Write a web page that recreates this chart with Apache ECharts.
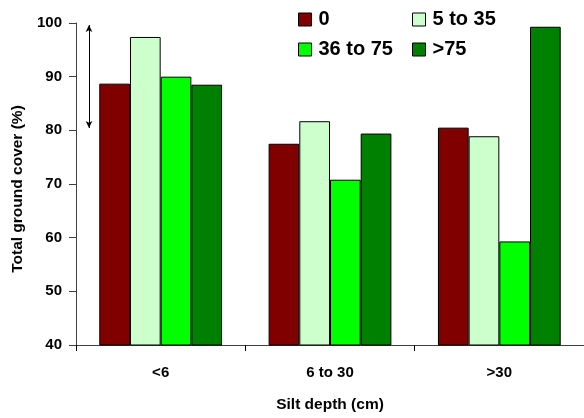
<!DOCTYPE html>
<html>
<head>
<meta charset="utf-8">
<script src="https://cdn.jsdelivr.net/npm/echarts@6/dist/echarts.min.js"></script>
<style>html,body{margin:0;padding:0;background:#fff}#c{width:584px;height:418px}</style>
</head>
<body>
<div id="c"></div>
<script>
var categories = ['<6', '6 to 30', '>30'];
var seriesNames = ['0', '5 to 35', '36 to 75', '>75'];
var values0 = [88.7, 77.5, 80.5];
var values5to35 = [97.4, 81.7, 78.9];
var values36to75 = [90.0, 70.8, 59.3];
var valuesOver75 = [88.5, 79.4, 99.3];
var yTicks = [40, 50, 60, 70, 80, 90, 100];

var colors = ['#800000', '#CCFFCC', '#00FF00', '#008000'];
var allValues = [values0, values5to35, values36to75, valuesOver75];
var FONT = 'Liberation Sans, Arial, sans-serif';

var chart = echarts.init(document.getElementById('c'), null, {renderer: 'canvas'});

var series = seriesNames.map(function (n, i) {
  return {
    name: n,
    type: 'bar',
    data: allValues[i],
    barGap: '0%',
    barCategoryGap: '27.5%',
    itemStyle: {color: colors[i], borderColor: '#000', borderWidth: 1},
    emphasis: {disabled: true}
  };
});
series[0].markLine = {
  silent: true,
  symbol: ['arrow', 'arrow'],
  symbolSize: [5, 7],
  label: {show: false},
  lineStyle: {color: '#000', width: 1, type: 'solid'},
  data: [[{x: 89, y: 25}, {x: 89, y: 128}]]
};

var legendPos = [[298, 9.5], [412, 9.5], [298, 39.5], [412, 39.5]];
var legends = seriesNames.map(function (n, i) {
  return {
    data: [n],
    left: legendPos[i][0],
    top: legendPos[i][1],
    padding: 0,
    icon: 'rect',
    itemWidth: 13,
    itemHeight: 13,
    itemStyle: {borderColor: '#000', borderWidth: 1},
    selectedMode: false,
    textStyle: {fontFamily: FONT, fontWeight: 'bold', fontSize: 20, color: '#000', lineHeight: 20, padding: [0, 0, 0, 2]}
  };
});

chart.setOption({
  animation: false,
  backgroundColor: '#fff',
  legend: legends,
  grid: {left: 76, top: 23, width: 513, height: 326, containLabel: false},
  xAxis: {
    type: 'category',
    data: categories,
    name: 'Silt depth (cm)',
    nameLocation: 'middle',
    nameGap: 52,
    nameTextStyle: {fontFamily: FONT, fontWeight: 'bold', fontSize: 15.5, color: '#000'},
    axisLine: {lineStyle: {color: '#404040', width: 1}},
    axisTick: {show: true, length: 6, lineStyle: {color: '#000'}},
    axisLabel: {fontFamily: FONT, fontWeight: 'bold', fontSize: 15, color: '#000', margin: 20}
  },
  yAxis: {
    type: 'value',
    min: yTicks[0],
    max: yTicks[yTicks.length - 1],
    interval: 10,
    name: 'Total ground cover (%)',
    nameLocation: 'middle',
    nameGap: 50,
    nameTextStyle: {fontFamily: FONT, fontWeight: 'bold', fontSize: 15.5, color: '#000', padding: [0, 10, 0, 0]},
    splitLine: {show: false},
    axisLine: {show: true, lineStyle: {color: '#404040', width: 1}},
    axisTick: {show: true, length: 7, lineStyle: {color: '#404040'}},
    axisLabel: {fontFamily: FONT, fontWeight: 'bold', fontSize: 15, color: '#000', margin: 14}
  },
  series: series
});
</script>
</body>
</html>
